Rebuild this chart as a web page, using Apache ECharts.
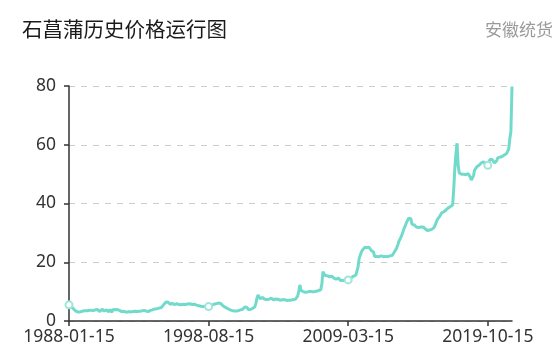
<!DOCTYPE html>
<html>
<head>
<meta charset="utf-8">
<script src="https://cdn.jsdelivr.net/npm/echarts@6/dist/echarts.min.js"></script>
<style>html,body{margin:0;padding:0;background:#fff}#c{width:560px;height:364px}</style>
</head>
<body>
<div id="c"></div>
<script>
var titleText = '石菖蒲历史价格运行图';
var subText = '安徽统货';
var startYear = 1988, startMonth = 1, dayOfMonth = 15;
var yTicks = [0, 20, 40, 60, 80];
var xTickLabels = ['1988-01-15', '1998-08-15', '2009-03-15', '2019-10-15'];
// monthly prices, one row per year (1988 .. 2021-08)
var y1988 = [5.5,5.3,5.0,4.6,4.2,3.8,3.4,3.2,3.1,3.2,3.1,3.3];
var y1989 = [3.3,3.4,3.5,3.6,3.5,3.7,3.6,3.8,3.7,3.6,3.5,3.6];
var y1990 = [3.8,4.0,3.9,3.7,3.2,3.8,4.0,3.9,3.4,2.9,3.8,4.0];
var y1991 = [3.1,3.9,4.1,3.0,3.9,4.0,3.8,3.6,3.9,3.7,3.6,3.5];
var y1992 = [3.2,3.1,3.3,3.2,3.0,3.1,3.2,3.3,3.1,3.0,3.2,3.2];
var y1993 = [3.3,3.4,3.2,3.1,3.3,3.5,3.4,3.3,3.6,3.5,3.4,3.3];
var y1994 = [3.2,3.4,3.6,3.5,3.8,4.0,4.1,3.9,4.2,4.5,4.4,4.5];
var y1995 = [4.6,5.0,5.5,6.0,6.4,6.6,6.5,6.0,5.7,5.9,6.0,5.8];
var y1996 = [5.6,5.8,5.9,5.7,5.6,5.4,5.5,5.6,5.7,5.8,5.6,5.7];
var y1997 = [5.8,5.9,5.9,5.8,5.6,5.5,5.7,5.6,5.4,5.3,5.2,5.1];
var y1998 = [5.0,5.0,4.9,4.9,5.0,4.9,4.9,4.9,5.1,5.3,5.5,5.6];
var y1999 = [5.7,5.8,5.9,6.0,6.1,6.2,6.0,5.7,5.2,4.9,4.7,4.5];
var y2000 = [4.3,4.1,3.9,3.8,3.6,3.5,3.4,3.5,3.4,3.3,3.5,3.7];
var y2001 = [3.8,3.9,4.0,4.3,4.8,5.4,4.6,3.9,3.7,3.9,4.1,4.3];
var y2002 = [4.5,4.8,6.0,7.8,8.8,8.2,7.6,7.8,8.0,7.7,7.4,7.6];
var y2003 = [7.3,7.1,7.4,7.6,7.8,7.5,7.2,7.3,7.5,7.7,7.4,7.2];
var y2004 = [7.1,7.0,7.2,7.1,7.3,7.1,7.0,7.2,7.1,7.0,7.1,7.2];
var y2005 = [7.3,7.2,7.4,7.6,8.5,10.0,12.3,10.5,9.9,10.0,10.1,9.8];
var y2006 = [10.0,9.9,10.2,10.1,9.9,10.0,10.2,10.0,10.3,10.1,10.0,10.4];
var y2007 = [10.3,10.6,12.5,16.8,16.2,15.5,15.8,15.4,15.6,15.0,14.8,15.3];
var y2008 = [15.0,14.6,14.5,14.2,14.3,14.6,14.0,13.8,13.7,13.8,14.0,13.9];
var y2009 = [14.2,14.0,14.0,14.2,14.5,14.8,15.0,15.3,15.5,15.6,15.8,18.5];
var y2010 = [21.4,22.0,23.5,24.2,24.6,25.0,25.2,25.0,24.8,25.1,24.6,24.0];
var y2011 = [24.2,23.5,22.0,21.9,22.0,22.1,21.9,22.0,22.2,22.0,21.9,22.0];
var y2012 = [22.0,22.1,21.9,22.0,22.2,22.0,22.3,22.8,23.5,24.0,24.8,25.8];
var y2013 = [27.0,27.8,28.5,29.5,30.6,31.7,32.5,33.5,34.2,35.0,35.2,34.8];
var y2014 = [33.0,32.5,32.7,32.3,32.0,32.2,31.8,32.1,32.0,31.6,32.0,31.5];
var y2015 = [31.4,31.0,30.8,31.2,31.0,31.5,31.2,31.5,31.8,32.5,33.5,34.5];
var y2016 = [35.0,35.5,36.0,36.8,37.0,37.2,37.5,37.8,38.0,38.5,38.8,39.0];
var y2017 = [39.0,39.5,45.0,52.0,57.0,60.5,53.0,50.4,50.2,50.0,50.3,50.0];
var y2018 = [50.1,49.8,50.0,50.2,50.0,49.0,48.0,47.8,49.5,51.4,52.0,52.5];
var y2019 = [53.0,53.0,53.2,53.8,54.0,54.2,53.8,53.5,53.0,53.0,54.0,55.0];
var y2020 = [55.5,55.0,54.5,53.8,53.5,54.5,55.5,56.0,55.8,56.2,56.0,56.3];
var y2021 = [56.5,56.8,57.0,57.5,58.5,62.0,64.5,79.8];

var prices = [].concat(y1988,y1989,y1990,y1991,y1992,y1993,y1994,y1995,y1996,y1997,
  y1998,y1999,y2000,y2001,y2002,y2003,y2004,y2005,y2006,y2007,y2008,y2009,y2010,
  y2011,y2012,y2013,y2014,y2015,y2016,y2017,y2018,y2019,y2020,y2021);

var dates = [];
for (var i = 0; i < prices.length; i++) {
  var m = startMonth - 1 + i;
  var yy = startYear + Math.floor(m / 12);
  var mm = (m % 12) + 1;
  dates.push(yy + '-' + (mm < 10 ? '0' + mm : mm) + '-' + dayOfMonth);
}
var labelInterval = dates.indexOf(xTickLabels[1]) - 1;

var chart = echarts.init(document.getElementById('c'), null, {renderer: 'canvas'});
chart.setOption({
  animation: false,
  backgroundColor: '#fff',
  title: [
    {text: titleText, left: 17, top: 14,
     textStyle: {fontFamily: 'Noto Sans CJK SC', fontSize: 20.5, fontWeight: 'normal', color: '#1a1a1a'}},
    {text: subText, right: 2, top: 16,
     textStyle: {fontFamily: 'Noto Sans CJK SC', fontSize: 17, fontWeight: 'normal', color: '#9a9a9a'}}
  ],
  grid: {left: 69, right: 48, top: 86, bottom: 43, containLabel: false},
  xAxis: {
    type: 'category',
    data: dates,
    boundaryGap: false,
    axisLine: {lineStyle: {color: '#333', width: 1.5}},
    axisTick: {show: true, interval: labelInterval, length: 5, lineStyle: {color: '#333', width: 1.5}},
    axisLabel: {interval: labelInterval, margin: 7, fontSize: 17.5, color: '#333', fontFamily: 'Noto Sans'},
    splitLine: {show: false}
  },
  yAxis: {
    type: 'value',
    min: yTicks[0], max: yTicks[yTicks.length - 1], interval: yTicks[1] - yTicks[0],
    axisLine: {show: true, lineStyle: {color: '#333', width: 1.5}},
    axisTick: {show: true, length: 5, lineStyle: {color: '#333', width: 1.5}},
    axisLabel: {fontSize: 17.5, color: '#333', margin: 13, fontFamily: 'Noto Sans'},
    splitLine: {show: true, lineStyle: {type: [6, 6], color: '#cccccc', width: 1}}
  },
  series: [{
    type: 'line',
    data: prices,
    showSymbol: true,
    showAllSymbol: 'auto',
    symbol: 'emptyCircle',
    symbolSize: 7,
    lineStyle: {color: '#72dacb', width: 3},
    itemStyle: {color: '#9fe6da', borderWidth: 1.5}
  }]
});
</script>
</body>
</html>
